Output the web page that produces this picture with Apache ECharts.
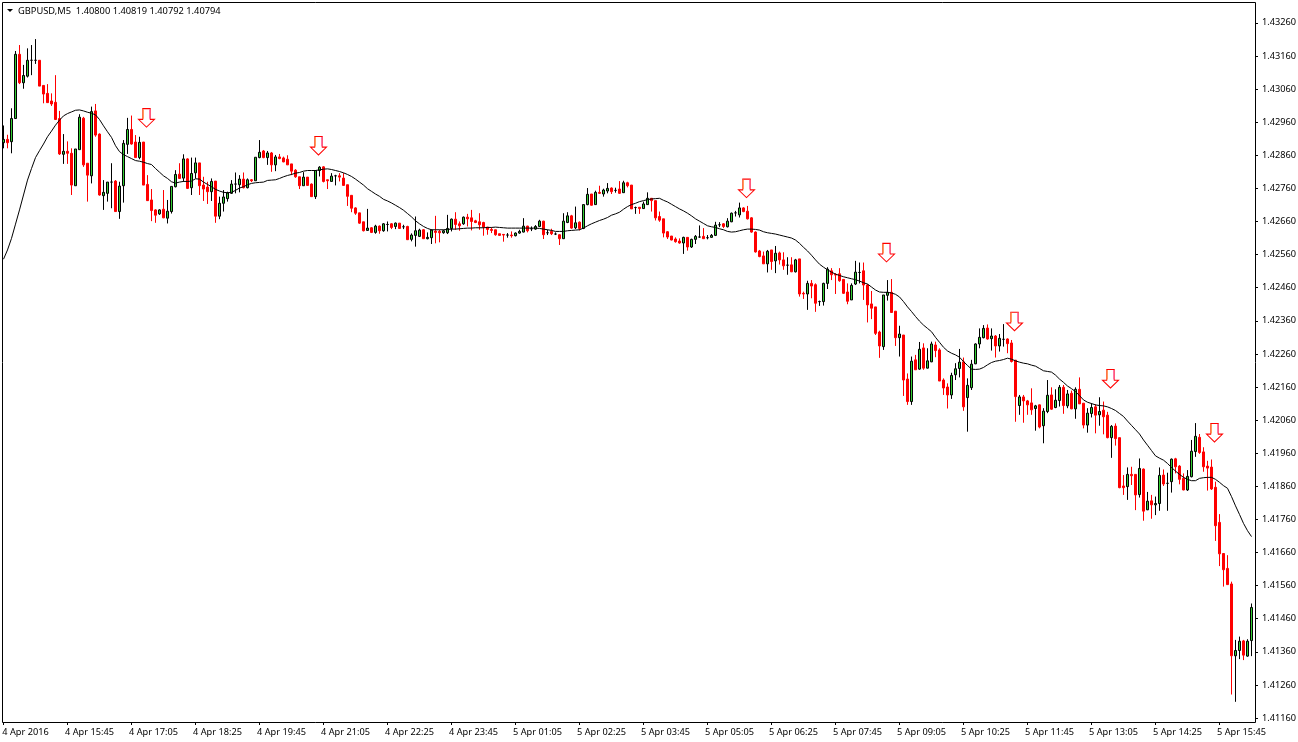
<!DOCTYPE html>
<html>
<head>
<meta charset="utf-8">
<title>GBPUSD,M5</title>
<script src="https://cdn.jsdelivr.net/npm/echarts@6/dist/echarts.min.js"></script>
<style>
  html, body { margin: 0; padding: 0; background: #fff; }
  #chart { width: 1298px; height: 742px; }
</style>
</head>
<body>
<div id="chart"></div>
<script>
// 价格以点数记录: 2898 -> 1.42898 (1.40000 + 点数 / 100000)
const opens = [
  2898,2908,2901,2971,3165,3079,3099,3147,3147,3147,
  3071,3047,3024,3020,2971,2863,2872,2866,2768,2877,
  2972,2836,2798,2994,2924,2738,2745,2779,2782,2690,
  2768,2893,2938,2900,2853,2900,2772,2725,2695,2683,
  2697,2670,2690,2765,2803,2791,2849,2762,2807,2837,
  2770,2764,2750,2782,2676,2715,2729,2745,2773,2771,
  2788,2762,2786,2783,2853,2873,2853,2867,2831,2855,
  2852,2848,2834,2815,2795,2768,2794,2773,2735,2814,
  2825,2786,2781,2798,2798,2791,2771,2739,2701,2686,
  2659,2633,2641,2627,2646,2632,2651,2653,2645,2655,
  2644,2645,2606,2618,2615,2635,2608,2611,2631,2630,
  2626,2626,2639,2667,2653,2653,2673,2671,2662,2659,
  2657,2643,2636,2635,2623,2621,2619,2619,2617,2625,
  2628,2646,2638,2637,2645,2661,2626,2630,2622,2620,
  2608,2657,2677,2641,2658,2639,2711,2743,2711,2748,
  2743,2752,2761,2754,2758,2747,2777,2770,2702,2703,
  2699,2711,2730,2723,2675,2668,2629,2616,2607,2601,
  2595,2612,2583,2606,2613,2615,2611,2612,2618,2650,
  2653,2644,2659,2686,2680,2701,2691,2671,2628,2571,
  2556,2532,2574,2541,2565,2544,2528,2529,2508,2547,
  2443,2441,2473,2469,2418,2418,2473,2511,2500,2502,
  2485,2447,2423,2471,2506,2511,2468,2411,2402,2326,
  2282,2437,2446,2389,2309,2317,2184,2116,2242,2214,
  2278,2217,2236,2287,2272,2181,2160,2136,2197,2216,
  2236,2128,2158,2230,2290,2309,2338,2306,2314,2284,
  2304,2305,2293,2241,2104,2130,2118,2112,2095,2106,
  2043,2086,2136,2098,2119,2159,2103,2141,2094,2153,
  2111,2045,2080,2100,2076,2090,2075,2007,2042,2007,
  1861,1859,1896,1896,1835,1912,1789,1816,1804,1808,
  1894,1869,1874,1943,1921,1884,1849,1889,1965,2008,
  1964,1921,1918,1857,1751,1657,1612,1565,1348,1364,
  1393,1347,1394
];
const closes = [
  2908,2898,2971,3165,3079,3101,3147,3147,3147,3069,
  3045,3019,3015,2968,2864,2872,2866,2770,2879,2975,
  2831,2800,2992,2921,2740,2748,2779,2779,2690,2767,
  2896,2938,2894,2853,2899,2770,2723,2693,2679,2695,
  2671,2691,2766,2802,2790,2849,2760,2805,2837,2768,
  2758,2750,2781,2676,2715,2734,2746,2773,2773,2788,
  2762,2786,2783,2854,2869,2853,2867,2831,2855,2850,
  2840,2831,2812,2795,2768,2794,2769,2735,2814,2824,
  2781,2783,2797,2798,2794,2769,2736,2700,2685,2655,
  2632,2640,2627,2646,2632,2653,2651,2642,2655,2639,
  2644,2605,2619,2632,2634,2608,2612,2634,2627,2626,
  2632,2639,2667,2651,2647,2673,2668,2660,2657,2650,
  2643,2636,2633,2620,2618,2619,2619,2617,2625,2630,
  2646,2632,2638,2645,2661,2620,2626,2623,2622,2608,
  2661,2677,2640,2656,2639,2711,2742,2709,2748,2745,
  2755,2760,2750,2754,2745,2777,2768,2698,2702,2699,
  2713,2730,2723,2671,2664,2625,2613,2604,2599,2595,
  2612,2583,2606,2615,2613,2608,2611,2618,2649,2650,
  2645,2661,2685,2686,2701,2690,2668,2628,2568,2554,
  2532,2570,2539,2564,2544,2526,2528,2508,2544,2441,
  2441,2473,2465,2413,2418,2473,2516,2499,2498,2481,
  2443,2419,2467,2507,2506,2468,2408,2398,2322,2284,
  2438,2446,2385,2309,2320,2181,2116,2238,2212,2274,
  2217,2239,2290,2270,2178,2157,2136,2195,2215,2235,
  2100,2165,2229,2290,2310,2337,2305,2314,2284,2307,
  2304,2291,2237,2131,2130,2118,2106,2091,2103,2039,
  2087,2135,2093,2120,2159,2104,2139,2094,2153,2109,
  2045,2081,2098,2075,2086,2070,2007,2041,2004,1856,
  1856,1896,1892,1834,1914,1785,1815,1804,1808,1893,
  1867,1869,1942,1919,1881,1849,1890,1966,2011,1962,
  1919,1915,1852,1741,1656,1608,1563,1348,1364,1392,
  1350,1392,1494
];
const highs = [
  2950,2922,3002,3175,3193,3133,3183,3193,3211,3147,
  3071,3075,3047,3102,2994,2924,2902,2881,2879,2984,
  2976,2836,3007,3015,2926,2785,2779,2836,2785,2780,
  2906,2973,2980,2921,2916,2900,2800,2758,2697,2697,
  2755,2725,2766,2815,2836,2863,2851,2853,2853,2837,
  2795,2780,2790,2782,2735,2755,2750,2785,2808,2800,
  2808,2790,2788,2854,2906,2876,2873,2870,2861,2864,
  2856,2860,2834,2818,2795,2809,2794,2775,2814,2827,
  2827,2786,2806,2801,2806,2806,2771,2739,2703,2686,
  2659,2698,2643,2650,2648,2655,2660,2655,2657,2655,
  2650,2647,2624,2675,2638,2637,2627,2636,2677,2635,
  2635,2680,2669,2688,2660,2675,2683,2695,2665,2685,
  2659,2643,2642,2635,2623,2622,2625,2630,2627,2635,
  2670,2647,2645,2649,2665,2662,2635,2638,2627,2621,
  2685,2688,2680,2705,2660,2711,2761,2743,2753,2768,
  2759,2776,2763,2762,2782,2783,2780,2770,2705,2703,
  2720,2748,2730,2723,2690,2668,2631,2616,2612,2609,
  2614,2612,2608,2619,2648,2640,2619,2622,2659,2658,
  2655,2670,2687,2692,2717,2703,2707,2673,2630,2574,
  2569,2574,2574,2586,2569,2567,2552,2552,2547,2547,
  2448,2481,2483,2473,2421,2475,2522,2519,2504,2519,
  2486,2473,2473,2541,2536,2536,2471,2450,2402,2330,
  2438,2483,2486,2389,2345,2317,2201,2252,2257,2296,
  2292,2277,2297,2297,2277,2186,2171,2203,2232,2275,
  2249,2186,2242,2292,2337,2347,2349,2337,2317,2320,
  2350,2307,2302,2241,2136,2136,2121,2156,2106,2107,
  2096,2181,2159,2153,2166,2166,2151,2149,2159,2189,
  2111,2096,2111,2108,2129,2116,2085,2045,2050,2007,
  1894,1917,1919,1897,1944,1914,1843,1834,1829,1917,
  1911,1901,1944,1946,1924,1899,1909,2000,2051,2018,
  1978,1937,1941,1874,1776,1657,1652,1572,1396,1406,
  1396,1398,1506
];
const lows = [
  2881,2881,2866,2971,3075,3061,3095,3102,3136,3069,
  3017,3019,3009,2968,2861,2834,2834,2740,2768,2877,
  2825,2720,2775,2916,2738,2695,2720,2700,2690,2668,
  2717,2864,2892,2853,2848,2770,2722,2661,2656,2680,
  2670,2654,2684,2763,2789,2780,2758,2740,2790,2740,
  2722,2713,2722,2656,2667,2690,2720,2743,2745,2748,
  2760,2760,2779,2783,2851,2851,2831,2810,2812,2848,
  2839,2831,2800,2792,2758,2768,2768,2735,2728,2796,
  2778,2758,2781,2769,2781,2768,2707,2688,2680,2653,
  2630,2632,2625,2623,2623,2629,2630,2637,2637,2638,
  2637,2604,2600,2584,2613,2607,2606,2592,2594,2597,
  2623,2622,2630,2635,2632,2650,2645,2633,2655,2635,
  2617,2620,2625,2617,2617,2599,2611,2611,2615,2623,
  2627,2627,2631,2635,2643,2607,2619,2619,2619,2589,
  2608,2655,2638,2637,2633,2637,2709,2708,2711,2743,
  2735,2745,2743,2747,2743,2746,2763,2698,2683,2683,
  2698,2710,2690,2663,2659,2612,2607,2603,2596,2593,
  2562,2572,2580,2592,2611,2607,2606,2611,2616,2643,
  2640,2642,2658,2675,2672,2688,2666,2626,2566,2552,
  2532,2506,2514,2504,2530,2514,2499,2507,2506,2433,
  2426,2393,2428,2387,2405,2406,2456,2483,2441,2478,
  2441,2410,2423,2468,2473,2423,2355,2365,2317,2248,
  2272,2421,2385,2284,2252,2133,2106,2106,2212,2212,
  2212,2216,2235,2250,2178,2136,2095,2124,2181,2189,
  2088,2025,2151,2229,2277,2307,2303,2270,2249,2267,
  2282,2262,2234,2055,2076,2052,2076,2076,2028,2035,
  1990,2081,2091,2096,2101,2079,2096,2093,2064,2109,
  2035,2022,2068,2020,2043,2017,2005,1946,1983,1854,
  1834,1819,1864,1788,1826,1756,1788,1762,1773,1786,
  1861,1786,1841,1899,1866,1848,1846,1887,1949,1958,
  1904,1847,1849,1695,1619,1557,1562,1231,1209,1338,
  1335,1345,1347
];
// 均线
const maValues = [
  2546,2574,2609,2652,2695,2740,2785,2820,2853,2874,
  2894,2916,2933,2951,2966,2979,2986,2991,2996,2997,
  2994,2990,2987,2982,2968,2949,2931,2914,2889,2871,
  2862,2856,2850,2844,2842,2839,2835,2832,2820,2809,
  2798,2790,2780,2776,2779,2781,2781,2782,2789,2788,
  2779,2772,2765,2757,2752,2748,2747,2748,2754,2761,
  2765,2771,2775,2777,2778,2779,2784,2785,2786,2790,
  2795,2799,2802,2806,2808,2812,2814,2814,2814,2816,
  2818,2819,2817,2814,2811,2807,2802,2796,2788,2779,
  2770,2759,2751,2743,2736,2727,2722,2716,2709,2702,
  2694,2684,2674,2662,2653,2645,2639,2635,2635,2635,
  2635,2636,2637,2637,2638,2639,2640,2640,2641,2641,
  2641,2642,2642,2643,2642,2641,2640,2640,2640,2640,
  2640,2640,2640,2640,2639,2637,2635,2633,2630,2630,
  2630,2632,2633,2634,2635,2640,2647,2653,2658,2663,
  2667,2672,2679,2683,2688,2697,2705,2711,2715,2720,
  2723,2726,2728,2729,2730,2724,2719,2712,2705,2698,
  2692,2685,2677,2668,2661,2654,2647,2644,2642,2638,
  2635,2630,2628,2629,2632,2635,2637,2637,2636,2634,
  2629,2626,2624,2622,2619,2616,2613,2610,2604,2594,
  2582,2571,2558,2544,2531,2522,2514,2507,2501,2497,
  2493,2490,2487,2484,2480,2475,2471,2462,2453,2447,
  2446,2446,2444,2440,2432,2418,2402,2388,2373,2359,
  2347,2337,2327,2310,2295,2280,2269,2262,2257,2250,
  2237,2225,2214,2213,2214,2219,2227,2234,2238,2240,
  2243,2247,2244,2239,2235,2232,2230,2226,2223,2216,
  2209,2207,2205,2196,2184,2174,2163,2155,2146,2134,
  2121,2114,2110,2106,2104,2103,2100,2095,2089,2080,
  2071,2057,2044,2031,2018,2000,1984,1968,1952,1945,
  1939,1929,1917,1906,1896,1887,1881,1877,1877,1884,
  1886,1887,1887,1881,1872,1862,1854,1829,1801,1775,
  1748,1726,1708
];
// 箭头信号: 所在K线序号和箭尖价格点数
const signalBars = [36, 79, 186, 221, 253, 277, 303];
const signalTips = [2945, 2861, 2732, 2538, 2330, 2157, 1994];

const xTickLabels = [
  '4 Apr 2016', '4 Apr 15:45', '4 Apr 17:05', '4 Apr 18:25', '4 Apr 19:45',
  '4 Apr 21:05', '4 Apr 22:25', '4 Apr 23:45', '5 Apr 01:05', '5 Apr 02:25',
  '5 Apr 03:45', '5 Apr 05:05', '5 Apr 06:25', '5 Apr 07:45', '5 Apr 09:05',
  '5 Apr 10:25', '5 Apr 11:45', '5 Apr 13:05', '5 Apr 14:25', '5 Apr 15:45'
];
const yTickValues = [
  1.4326, 1.4316, 1.4306, 1.4296, 1.4286, 1.4276, 1.4266, 1.4256, 1.4246, 1.4236, 1.4226,
  1.4216, 1.4206, 1.4196, 1.4186, 1.4176, 1.4166, 1.4156, 1.4146, 1.4136, 1.4126, 1.4116
];
const headerText = 'GBPUSD,M5  1.40800 1.40819 1.40792 1.40794';

const toPrice = (points) => 1.4 + points / 100000;
const labelFont = { fontFamily: '"Noto Sans", sans-serif', fontSize: 9.2, color: '#000' };

// 每16根K线一个时间标签
const categories = opens.map((_, i) => (i % 16 === 0 ? xTickLabels[i / 16] : ''));
const candles = opens.map((o, i) => [toPrice(o), toPrice(closes[i]), toPrice(lows[i]), toPrice(highs[i])]);
const signalData = signalBars.map((bar, i) => [bar, toPrice(signalTips[i])]);

const chart = echarts.init(document.getElementById('chart'), null, { renderer: 'canvas' });

chart.setOption({
  animation: false,
  backgroundColor: '#ffffff',
  grid: { left: 1.5, width: 1252, top: 3, height: 719, outerBoundsMode: 'none' },
  xAxis: {
    type: 'category',
    data: categories,
    boundaryGap: true,
    axisLine: { show: false },
    axisTick: { show: true, interval: 15, alignWithLabel: true, length: 3, lineStyle: { color: '#000' } },
    // 文字略靠刻度左侧，用居中加左内边距来定位
    axisLabel: { ...labelFont, interval: 15, align: 'center', padding: [0, 0, 0, 44], margin: 6, hideOverlap: false },
    splitLine: { show: false }
  },
  yAxis: {
    type: 'value',
    position: 'right',
    offset: 1.5,
    min: 1.41148,
    max: 1.4332,
    axisLine: { show: false },
    axisTick: { show: true, customValues: yTickValues, length: 3, lineStyle: { color: '#000' } },
    axisLabel: {
      ...labelFont,
      customValues: yTickValues,
      margin: 7,
      padding: [3, 0, 0, 0],
      formatter: (value) => Number(value).toFixed(5)
    },
    splitLine: { show: false }
  },
  series: [
    {
      name: 'GBPUSD',
      type: 'candlestick',
      data: candles,
      barWidth: 2,
      itemStyle: {
        color: '#32cd32',
        color0: '#ff0000',
        borderColor: '#000000',
        borderColor0: '#ff0000',
        borderColorDoji: '#000000',
        borderWidth: 1
      },
      emphasis: { disabled: true }
    },
    {
      name: 'MA',
      type: 'line',
      data: maValues.map(toPrice),
      symbol: 'none',
      smooth: false,
      lineStyle: { color: '#000000', width: 1 },
      emphasis: { disabled: true },
      z: 3
    },
    {
      name: 'signal',
      type: 'scatter',
      data: signalData,
      symbol: 'path://M4.5 0H12.5V11H17L8.5 19L0 11H4.5Z',
      symbolSize: [16, 18.5],
      symbolOffset: [-1, -9.25],
      itemStyle: { color: '#ffffff', borderColor: '#ff0000', borderWidth: 1, opacity: 1 },
      emphasis: { disabled: true },
      z: 4
    },
    {
      // 箭杆两侧的橙色和粉色描边
      name: 'signalEdge',
      type: 'scatter',
      data: signalData,
      symbol: 'path://M0 0H1.5V10H0ZM6.5 0H8V10H6.5Z',
      symbolSize: [8, 9.5],
      symbolOffset: [-1, -13.2],
      itemStyle: {
        color: new echarts.graphic.LinearGradient(0, 0, 1, 0, [
          { offset: 0, color: '#ffa050' },
          { offset: 1, color: '#ff70b0' }
        ]),
        opacity: 1
      },
      emphasis: { disabled: true },
      z: 5
    }
  ],
  graphic: [
    // 图表外框
    { type: 'rect', shape: { x: 2.5, y: 2.5, width: 1253, height: 720 }, style: { fill: 'none', stroke: '#000', lineWidth: 1 }, z: 10 },
    // 左上角小三角和品种信息
    { type: 'polygon', shape: { points: [[7, 9], [13, 9], [10, 12]] }, style: { fill: '#000' }, z: 10 },
    { type: 'text', x: 18, y: 6.5, style: { text: headerText, font: '9.3px "Noto Sans", sans-serif', fill: '#000' }, z: 10 }
  ]
});
</script>
</body>
</html>
